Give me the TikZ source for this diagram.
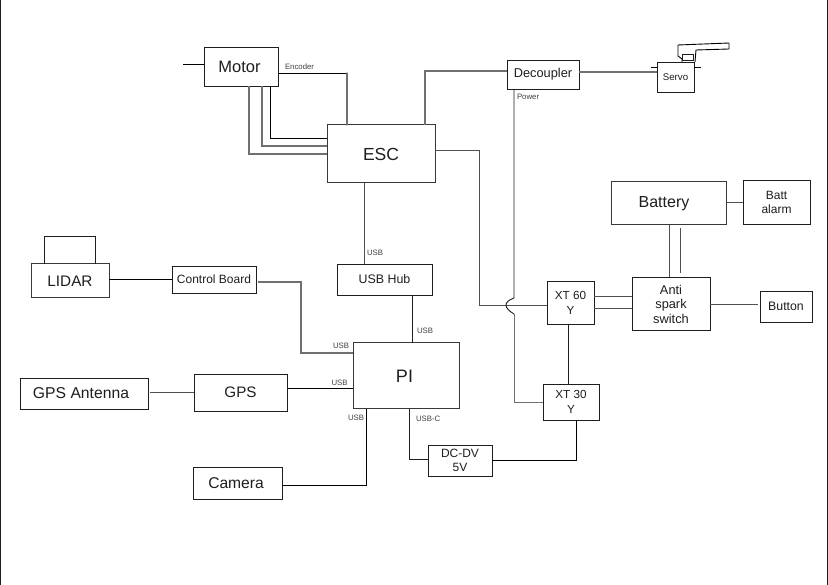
\documentclass[tikz,border=0pt]{standalone}
\usepackage{fontspec}
\setmainfont{Liberation Sans}
\definecolor{ink}{HTML}{1E1E1E}
\definecolor{soft}{HTML}{707070}
\definecolor{softb}{HTML}{383838}
\definecolor{mid}{HTML}{505050}
\tikzset{
  tsize/.style 2 args={font=\fontsize{#1}{#2}\selectfont},
  box/.style={draw=ink,line width=0.9pt,fill=white,inner sep=0pt,outer sep=0pt,align=center,text=ink},
  gbox/.style={box,draw=softb,line width=1pt},
  wire/.style={draw=black,line width=0.9pt},
  gwire/.style={draw=soft,line width=1.2pt},
  mwire/.style={draw=mid,line width=1pt},
  tag/.style={inner sep=0pt,outer sep=0pt,anchor=west,text=ink!85,tsize={7.8}{9}}
}
\begin{document}
\begin{tikzpicture}[x=1pt,y=-1pt]
\useasboundingbox (0,0) rectangle (828,585);
\fill[white] (0,0) rectangle (828,585);
\coordinate (frameTL) at (0.5,0);
\coordinate (frameBL) at (0.5,585);
\coordinate (frameTR) at (827.5,0);
\coordinate (frameBR) at (827.5,585);
\draw[line width=1.2pt,draw=ink] (frameTL) -- (frameBL);
\draw[line width=1.2pt,draw=ink] (frameTR) -- (frameBR);

% boxes
\node[box,tsize={16.5}{18},minimum width=74pt,minimum height=39pt] (motor) at (241,66.5) {\hspace*{-3pt}Motor};
\node[gbox,tsize={17.5}{20},minimum width=108pt,minimum height=58pt] (esc) at (381,154) {ESC};
\node[box,tsize={12.8}{15},minimum width=72pt,minimum height=29pt] (dec) at (543,74.5) {Decoupler};
\node[box,tsize={9.7}{12},minimum width=37pt,minimum height=30pt] (servo) at (675.5,77) {\raisebox{-2pt}{Servo}};
\node[gbox,tsize={16}{18},minimum width=115pt,minimum height=43pt] (batt) at (668.5,203.5) {\hspace*{-9pt}\raisebox{2.5pt}{Battery}};
\node[box,tsize={12}{14},minimum width=67pt,minimum height=44pt] (alarm) at (776.5,202) {Batt\\alarm};
\node[box,tsize={12.8}{14.5},minimum width=78pt,minimum height=53pt] (anti) at (671,304) {Anti\\spark\\switch};
\node[box,tsize={12.3}{14},minimum width=52pt,minimum height=31pt] (button) at (786,306.5) {Button};
\node[box,tsize={11.7}{15.7},minimum width=47pt,minimum height=43pt] (xtsix) at (570.5,303) {XT 60\\Y};
\node[box,tsize={11.7}{14.7},minimum width=56pt,minimum height=36pt] (xtthree) at (571,402) {XT 30\\Y};
\node[box,tsize={12}{14},minimum width=64pt,minimum height=31pt] (dcdv) at (460,460.5) {DC-DV\\5V};
\node[gbox,tsize={18}{20},minimum width=106pt,minimum height=66pt] (pi) at (406,376) {\hspace*{-3pt}PI};
\node[box,tsize={12.4}{15},minimum width=95pt,minimum height=31pt] (hub) at (384.5,279.5) {USB Hub};
\node[gbox,tsize={15.3}{18},minimum width=78pt,minimum height=34pt] (lidar) at (70,281) {LIDAR};
\node[box,tsize={12}{14},minimum width=84pt,minimum height=27pt] (ctrl) at (214,279.5) {\raisebox{1.5pt}{Control Board}};
\node[box,tsize={15.7}{18},minimum width=128pt,minimum height=31pt] (ant) at (84,393.5) {\hspace*{-6pt}GPS Antenna};
\node[box,tsize={15.2}{18},minimum width=93pt,minimum height=37pt] (gps) at (240.5,392.5) {GPS};
\node[box,tsize={15.6}{18},minimum width=89pt,minimum height=32pt] (cam) at (237.5,483) {\hspace*{-3pt}Camera};

% named free ends
\coordinate (motorstub) at (183,64);

% Motor and ESC
\draw[wire] (motorstub) -- (motorstub -| motor.west);
\draw[wire] (motor.east |- 0,73) -- (347,73);
\draw[gwire,line cap=round] (347,73) -- (esc.north -| 347,0);
\draw[wire] (motor.south -| 270,0) |- (esc.west |- 0,138);
\draw[gwire] (motor.south -| 262,0) |- (esc.west |- 0,146);
\draw[gwire] (motor.south -| 249,0) |- (esc.west |- 0,154);
\draw[gwire] (esc.north -| 425,0) |- (dec.west |- 0,71);
\draw[wire,draw=mid] (esc.east |- 0,150) -- (479,150) -- (479,305) -- (xtsix.west |- 0,305);

% Power line with hop
\draw[wire,draw=ink] (dec.south -| 514,0) -- (514,298) .. controls (509,300) and (506,302) .. (506,305) .. controls (506,308) and (509,311) .. (514,314);
\draw[gwire,line width=1pt] (514,314) -- (514,403) -- (xtthree.west |- 0,403);

% Decoupler and servo
\draw[gwire,line width=1.4pt] (dec.east |- 0,72) -- (servo.west |- 0,72);
\draw[wire] (servo.west |- 0,67) -- (651,67);
\draw[wire] (servo.east |- 0,67) -- (701,67);
\draw[wire,line width=0.9pt,fill=white] (682,62) -- (682,59) -- (678,56) -- (678,45) -- (729,43) -- (729,49) -- (696,50) -- (695,62);
\draw[wire,line width=0.8pt,draw=ink] (682,54) rectangle (693,60);

% Battery side
\draw[mwire] (batt.east |- 0,203) -- (alarm.west |- 0,203);
\draw[mwire] (batt.south -| 669,0) -- (anti.north -| 669,0);
\draw[mwire] (680,228) -- (680,273);
\draw[mwire] (xtsix.east |- 0,297) -- (anti.west |- 0,297);
\draw[mwire] (xtsix.east |- 0,309) -- (anti.west |- 0,309);
\draw[mwire] (anti.east |- 0,305) -- (758,305);
\draw[mwire,draw=ink] (xtsix.south -| 568,0) -- (xtthree.north -| 568,0);
\draw[wire] (xtthree.south -| 576,0) |- (dcdv.east |- 0,460);

% Left side and PI
\draw[mwire] (esc.south -| 364,0) -- (hub.north -| 364,0);
\draw[mwire,draw=ink] (hub.south -| 412,0) -- (pi.north -| 412,0);
\draw[gwire] (258,282) -- (301,282) -- (301,353) -- (pi.west |- 0,353);
\draw[wire] (288,388) -- (pi.west |- 0,388);
\draw[mwire] (150,393) -- (gps.west |- 0,393);
\draw[wire] (lidar.east |- 0,279) -- (ctrl.west |- 0,279);
\draw[wire] (pi.south -| 366,0) |- (cam.east |- 0,485);
\draw[mwire,draw=ink] (pi.south -| 409,0) |- (dcdv.west |- 0,459);
\draw[mwire,draw=ink] (lidar.north -| 44,0) -- (44,237) -- (95,237) -- (lidar.north -| 95,0);

% labels
\node[tag] (tEnc) at (285,67) {Encoder};
\node[tag] (tPow) at (517,97) {Power};
\node[tag] (tUa) at (367,253) {USB};
\node[tag] (tUb) at (417,331) {USB};
\node[tag] (tUc) at (333,346) {USB};
\node[tag] (tUd) at (331.5,383) {USB};
\node[tag] (tUe) at (348,418) {USB};
\node[tag] (tUf) at (416,419) {USB-C};
\end{tikzpicture}
\end{document}
